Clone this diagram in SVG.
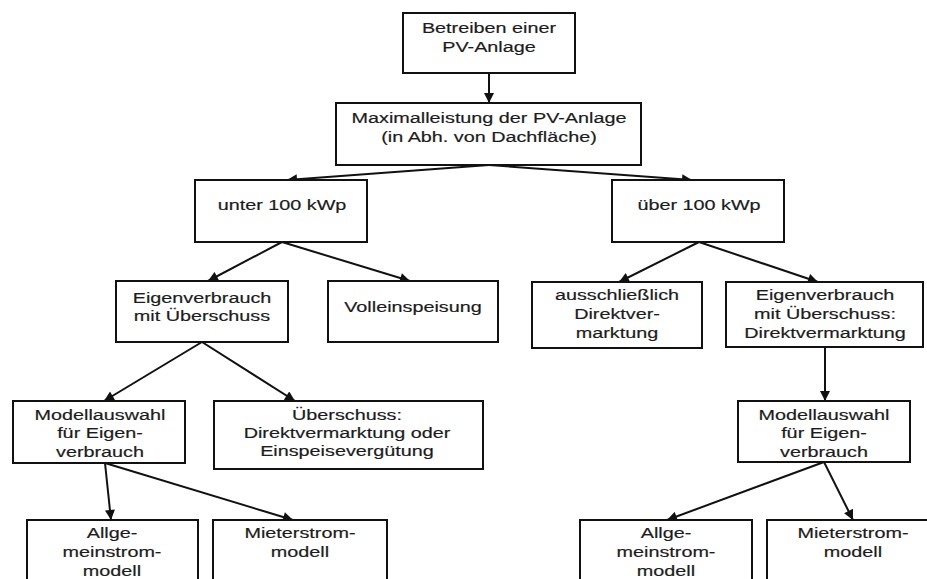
<svg xmlns="http://www.w3.org/2000/svg" width="927" height="579" viewBox="0 0 927 579">
<defs>
<style>
.box{fill:#fff;stroke:#111;stroke-width:2}
.t{font-family:"Liberation Sans",Arial,sans-serif;font-size:15px;fill:#1c1c1c;stroke:#1c1c1c;stroke-width:0.18;text-anchor:middle}
.c{fill:none;stroke:#111;stroke-width:2}
</style>
<marker id="ah" viewBox="0 0 10 10" refX="10" refY="5" markerWidth="11" markerHeight="10" markerUnits="userSpaceOnUse" orient="auto">
<path d="M0,0 L10,5 L0,10 Z" fill="#111"/>
</marker>
</defs>
<rect width="927" height="579" fill="#fff"/>
<g id="connectors">
<line class="c" x1="489" y1="73" x2="489" y2="103" marker-end="url(#ah)"/>
<line class="c" x1="489" y1="165" x2="287" y2="180" marker-end="url(#ah)"/>
<line class="c" x1="489" y1="165" x2="692" y2="180" marker-end="url(#ah)"/>
<line class="c" x1="282" y1="242" x2="208" y2="281" marker-end="url(#ah)"/>
<line class="c" x1="282" y1="242" x2="410" y2="281" marker-end="url(#ah)"/>
<line class="c" x1="699" y1="242" x2="619" y2="282" marker-end="url(#ah)"/>
<line class="c" x1="699" y1="242" x2="818" y2="282" marker-end="url(#ah)"/>
<line class="c" x1="202" y1="342" x2="104" y2="401" marker-end="url(#ah)"/>
<line class="c" x1="202" y1="342" x2="295" y2="401" marker-end="url(#ah)"/>
<line class="c" x1="825" y1="347" x2="825" y2="401" marker-end="url(#ah)"/>
<line class="c" x1="105" y1="463" x2="111" y2="520" marker-end="url(#ah)"/>
<line class="c" x1="105" y1="463" x2="293" y2="520" marker-end="url(#ah)"/>
<line class="c" x1="824" y1="462" x2="667" y2="520" marker-end="url(#ah)"/>
<line class="c" x1="824" y1="462" x2="853" y2="520" marker-end="url(#ah)"/>
</g>
<g id="n1">
<rect class="box" x="403" y="13" width="172" height="60"/>
<text class="t" transform="translate(489 0) scale(1.32 1)"><tspan x="0" y="33">Betreiben einer</tspan><tspan x="0" y="52">PV-Anlage</tspan></text>
</g>
<g id="n2">
<rect class="box" x="336" y="103" width="305" height="62"/>
<text class="t" transform="translate(489 0) scale(1.32 1)"><tspan x="0" y="123">Maximalleistung der PV-Anlage</tspan><tspan x="0" y="142">(in Abh. von Dachfläche)</tspan></text>
</g>
<g id="n3">
<rect class="box" x="195" y="180" width="172" height="62"/>
<text class="t" transform="translate(282 0) scale(1.32 1)"><tspan x="0" y="210">unter 100 kWp</tspan></text>
</g>
<g id="n4">
<rect class="box" x="612" y="180" width="172" height="62"/>
<text class="t" transform="translate(699 0) scale(1.32 1)"><tspan x="0" y="210">über 100 kWp</tspan></text>
</g>
<g id="n5">
<rect class="box" x="116" y="281" width="172" height="61"/>
<text class="t" transform="translate(202 0) scale(1.32 1)"><tspan x="0" y="303">Eigenverbrauch</tspan><tspan x="0" y="321">mit Überschuss</tspan></text>
</g>
<g id="n6">
<rect class="box" x="328" y="281" width="170" height="61"/>
<text class="t" transform="translate(413 0) scale(1.32 1)"><tspan x="0" y="312">Volleinspeisung</tspan></text>
</g>
<g id="n7">
<rect class="box" x="532" y="282" width="170" height="66"/>
<text class="t" transform="translate(617 0) scale(1.32 1)"><tspan x="0" y="300">ausschließlich</tspan><tspan x="0" y="319">Direktver-</tspan><tspan x="0" y="338">marktung</tspan></text>
</g>
<g id="n8">
<rect class="box" x="726" y="282" width="197" height="65"/>
<text class="t" transform="translate(825 0) scale(1.32 1)"><tspan x="0" y="300">Eigenverbrauch</tspan><tspan x="0" y="319">mit Überschuss:</tspan><tspan x="0" y="338">Direktvermarktung</tspan></text>
</g>
<g id="n9">
<rect class="box" x="13" y="401" width="172" height="62"/>
<text class="t" transform="translate(100 0) scale(1.32 1)"><tspan x="0" y="420">Modellauswahl</tspan><tspan x="0" y="438">für Eigen-</tspan><tspan x="0" y="457">verbrauch</tspan></text>
</g>
<g id="n10">
<rect class="box" x="214" y="401" width="269" height="68"/>
<text class="t" transform="translate(347 0) scale(1.32 1)"><tspan x="0" y="420">Überschuss:</tspan><tspan x="0" y="438">Direktvermarktung oder</tspan><tspan x="0" y="456">Einspeisevergütung</tspan></text>
</g>
<g id="n11">
<rect class="box" x="738" y="401" width="172" height="61"/>
<text class="t" transform="translate(824 0) scale(1.32 1)"><tspan x="0" y="420">Modellauswahl</tspan><tspan x="0" y="438">für Eigen-</tspan><tspan x="0" y="457">verbrauch</tspan></text>
</g>
<g id="n12">
<rect class="box" x="27" y="520" width="171" height="80"/>
<text class="t" transform="translate(112 0) scale(1.32 1)"><tspan x="0" y="538">Allge-</tspan><tspan x="0" y="557">meinstrom-</tspan><tspan x="0" y="576">modell</tspan></text>
</g>
<g id="n13">
<rect class="box" x="213" y="520" width="174" height="80"/>
<text class="t" transform="translate(300 0) scale(1.32 1)"><tspan x="0" y="538">Mieterstrom-</tspan><tspan x="0" y="557">modell</tspan></text>
</g>
<g id="n14">
<rect class="box" x="580" y="520" width="172" height="80"/>
<text class="t" transform="translate(666 0) scale(1.32 1)"><tspan x="0" y="538">Allge-</tspan><tspan x="0" y="557">meinstrom-</tspan><tspan x="0" y="576">modell</tspan></text>
</g>
<g id="n15">
<rect class="box" x="767" y="520" width="172" height="80"/>
<text class="t" transform="translate(853 0) scale(1.32 1)"><tspan x="0" y="538">Mieterstrom-</tspan><tspan x="0" y="557">modell</tspan></text>
</g>
</svg>
